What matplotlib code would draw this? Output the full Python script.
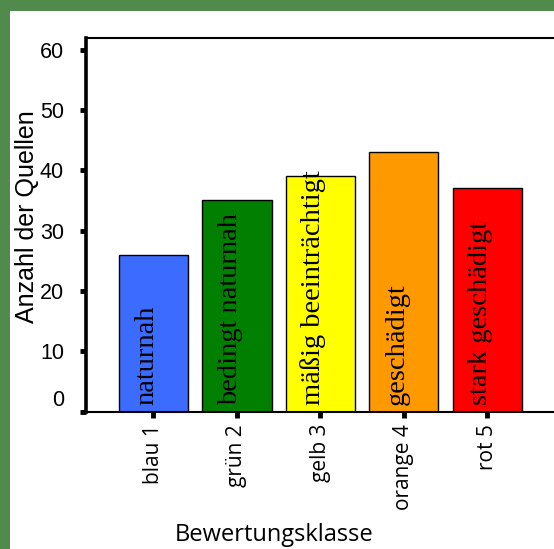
import matplotlib
matplotlib.use("Agg")
import matplotlib.pyplot as plt
from matplotlib.patches import Rectangle

# data
classes = ["blau 1", "grün 2", "gelb 3", "orange 4", "rot 5"]
counts = [26, 35, 39, 43, 37]
descriptions = ["naturnah", "bedingt naturnah", "mäßig beeinträchtigt",
                "geschädigt", "stark geschädigt"]
colors = ["#3b6bff", "#007f00", "#ffff00", "#ff9900", "#ff0000"]
yticks = [0, 10, 20, 30, 40, 50, 60]

W, H = 554, 549
fig = plt.figure(figsize=(W / 100, H / 100), dpi=100)
fig.patch.set_facecolor("#508a4c")
# white panel inside the green frame
fig.patches.append(Rectangle((10 / W, 0), 1 - 10 / W, 1 - 11 / H,
                             transform=fig.transFigure, facecolor="white",
                             edgecolor="none", zorder=-5))

left, right, bottom, top = 85.5, 554, 411.5, 37.5
ax = fig.add_axes([left / W, 1 - bottom / H, (right - left) / W, (bottom - top) / H])
ax.set_facecolor("white")

pos = list(range(1, len(classes) + 1))
ax.bar(pos, counts, width=0.83, color=colors, edgecolor="black", linewidth=1.0, zorder=2)

for p, d in zip(pos, descriptions):
    ax.text(p, 1.1, d, rotation=90, rotation_mode="anchor", ha="left", va="baseline",
            family=["Liberation Serif", "DejaVu Serif"], fontsize=20.5, color="black", zorder=3)

ax.set_xlim(0.186, 5.80)
ax.set_ylim(0, 62)

ax.set_xticks(pos)
ax.set_xticklabels(classes, rotation=90, family=["Open Sans", "DejaVu Sans"], fontsize=15)
ax.set_yticks(yticks)
ax.set_yticklabels([""] + [str(v) for v in yticks[1:]],
                   family=["Liberation Sans", "DejaVu Sans"], fontsize=15.5)
# the zero label sits a bit above its tick in the original
ax.annotate("0", xy=(0, 0), xycoords=("axes fraction", "data"), xytext=(-15.5, 8),
            textcoords="offset points", ha="right", va="center",
            family=["Liberation Sans", "DejaVu Sans"], fontsize=15.5)

ax.tick_params(axis="y", direction="out", length=4.5, width=3.5, pad=11)
ax.tick_params(axis="x", direction="out", length=4, width=3.5, pad=5)

ax.spines["right"].set_visible(False)
ax.spines["left"].set_linewidth(2.6)
ax.spines["bottom"].set_linewidth(1.5)
ax.spines["top"].set_linewidth(1.5)

fig.text(27 / W, 1 - 217 / H, "Anzahl der Quellen", rotation=90, ha="center", va="center",
         family=["Liberation Sans", "DejaVu Sans"], fontsize=18)
fig.text(274.5 / W, 1 - 535 / H, "Bewertungsklasse", ha="center", va="center",
         family=["Open Sans", "DejaVu Sans"], fontsize=17)

fig.savefig("out.png", dpi=100, facecolor=fig.get_facecolor())
